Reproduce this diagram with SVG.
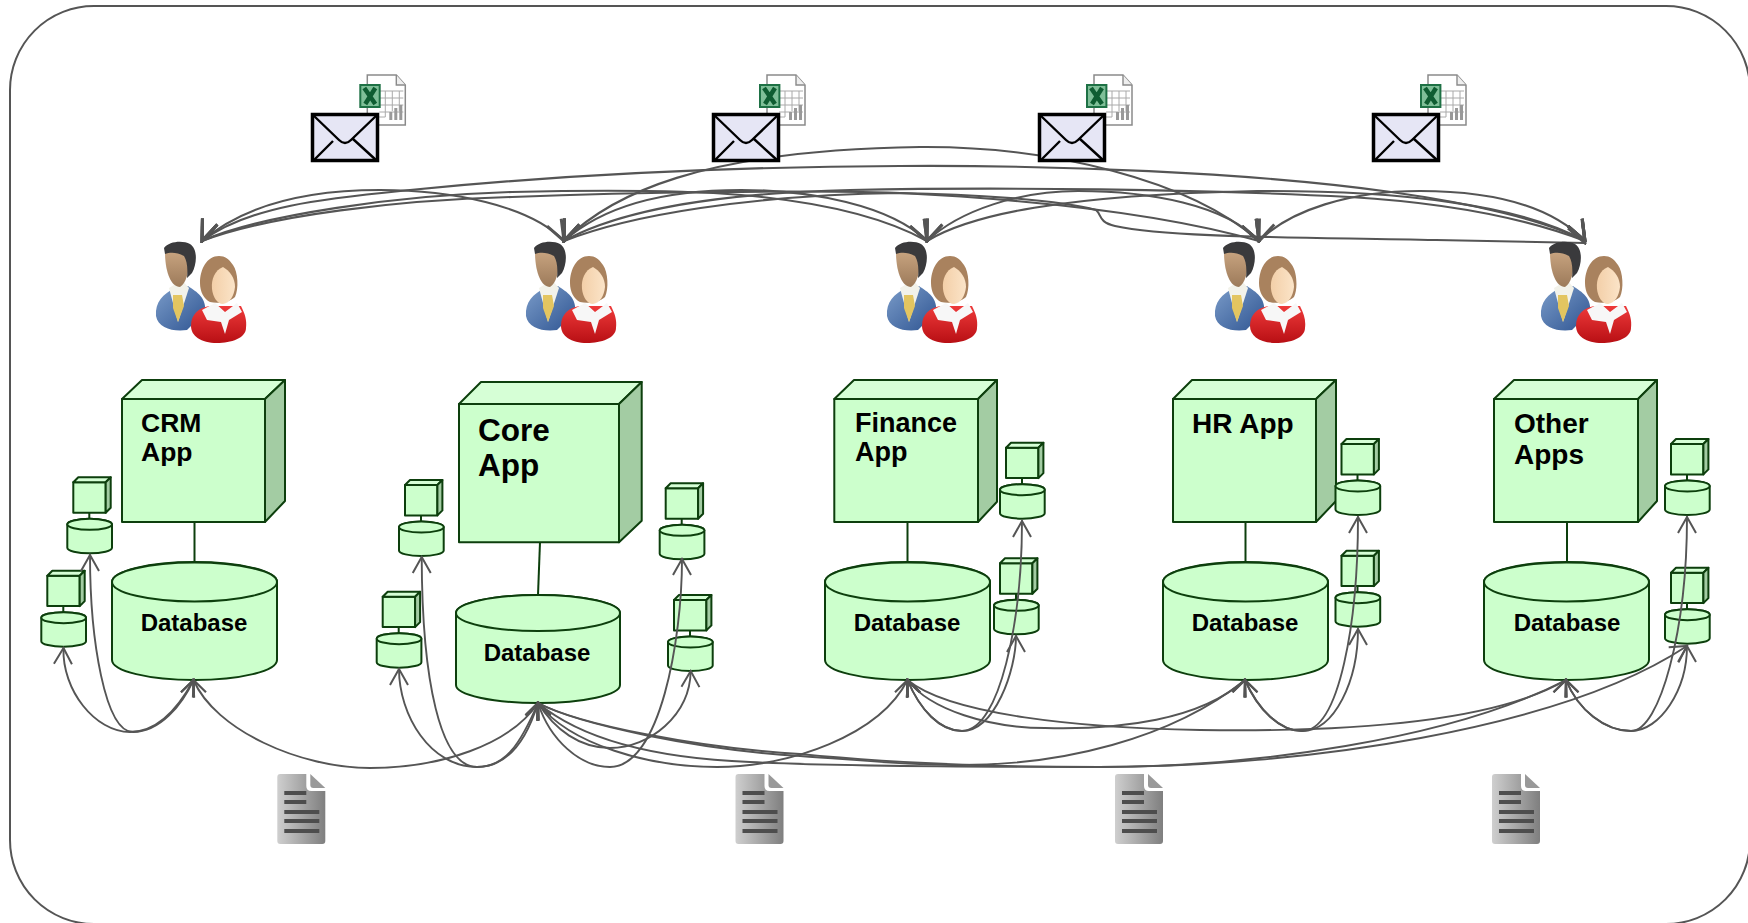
<svg xmlns="http://www.w3.org/2000/svg" xmlns:xlink="http://www.w3.org/1999/xlink" width="1748" height="923" viewBox="0 0 1748 923">
<style>
.f{fill:#ccffcc;stroke:#0d3f0d;stroke-width:2;stroke-linejoin:round}
.t{fill:#d6ffd6;stroke:#0d3f0d;stroke-width:2;stroke-linejoin:round}
.s{fill:#a3cca3;stroke:#0d3f0d;stroke-width:2;stroke-linejoin:round}
.l{fill:none;stroke:#0d3f0d;stroke-width:2}
.c{fill:none;stroke:#555;stroke-width:1.9;stroke-linecap:round}
.top{marker-start:url(#tl);marker-end:url(#tr);stroke-width:2.1}
.sl{marker-start:url(#ul)}
.sr{marker-start:url(#ur)}
.el{marker-end:url(#ul)}
.et{marker-end:url(#tip)}
text{font-family:"Liberation Sans",Arial,sans-serif;font-weight:700;fill:#000}
.a{font-size:26.5px}.a2{font-size:27px}.a3{font-size:28px}.b{font-size:31.5px}.d{font-size:24px;text-anchor:middle}
</style>
<defs>
<marker id="tl" markerUnits="userSpaceOnUse" viewBox="-24 -12 26 24" refX="0" refY="0" markerWidth="26" markerHeight="24" orient="112"><path d="M-21 -8L0 0L-21 8" fill="none" stroke="#555" stroke-width="3"/></marker>
<marker id="tr" markerUnits="userSpaceOnUse" viewBox="-24 -12 26 24" refX="0" refY="0" markerWidth="26" markerHeight="24" orient="62"><path d="M-21 -8L0 0L-21 8" fill="none" stroke="#555" stroke-width="3"/></marker>
<marker id="ul" markerUnits="userSpaceOnUse" viewBox="-20 -12 22 24" refX="0" refY="0" markerWidth="22" markerHeight="24" orient="-68"><path d="M-16 -7L0 0L-16 7" fill="none" stroke="#555" stroke-width="2.2"/></marker>
<marker id="ur" markerUnits="userSpaceOnUse" viewBox="-20 -12 22 24" refX="0" refY="0" markerWidth="22" markerHeight="24" orient="-112"><path d="M-16 -7L0 0L-16 7" fill="none" stroke="#555" stroke-width="2.2"/></marker>
<marker id="tip" markerUnits="userSpaceOnUse" viewBox="-20 -12 22 24" refX="0" refY="0" markerWidth="22" markerHeight="24" orient="auto"><path d="M-16 -9L0 0L-16 9" fill="none" stroke="#555" stroke-width="2"/></marker>
<linearGradient id="docg" x1="0" x2="1" y1="0" y2="0"><stop offset="0" stop-color="#cfcfcf"/><stop offset="1" stop-color="#7f7f7f"/></linearGradient>
<linearGradient id="blue" x1="0" x2="1" y1="0" y2="1"><stop offset="0" stop-color="#7b9cc9"/><stop offset="1" stop-color="#2f5592"/></linearGradient>
<linearGradient id="red" x1="0" x2="0" y1="0" y2="1"><stop offset="0" stop-color="#ee3a3a"/><stop offset="1" stop-color="#b80f14"/></linearGradient>
<linearGradient id="skin" x1="0" x2="0" y1="0" y2="1"><stop offset="0" stop-color="#c7a37f"/><stop offset="1" stop-color="#9c7a5a"/></linearGradient>
<linearGradient id="skin2" x1="0" x2="1" y1="0" y2="0"><stop offset="0" stop-color="#f3cfa8"/><stop offset="1" stop-color="#fbe4c8"/></linearGradient>
<g id="small">
<line class="l" x1="16" y1="30" x2="16" y2="37"/>
<rect class="f" width="32.4" height="30.4"/>
<path class="t" d="M0 0L5 -5H37.4L32.4 0Z"/>
<path class="s" d="M32.4 0L37.4 -5V25.4L32.4 30.4Z"/>
<path class="f" d="M-6 42V65.5A22.35 5.5 0 0 0 38.7 65.5V42A22.35 5.5 0 0 0 -6 42Z"/>
<ellipse class="f" cx="16.35" cy="42" rx="22.35" ry="5.5"/>
</g>
<g id="cyl">
<path class="f" d="M0 20V98A82.5 20 0 0 0 165 98V20A82.5 20 0 0 0 0 20Z"/>
<ellipse class="f" cx="82.5" cy="20" rx="82.5" ry="19.5"/>
</g>
<g id="person">
<path d="M1 74C0 60 8 52 20 46L33 44C42 50 52 56 50 70L32 88C18 90 3 86 1 74Z" fill="url(#blue)"/>
<path d="M14 46L23 80L34 46L27 38Z" fill="#f2f2ea"/>
<path d="M18 53H27L29 64L23 80L18 66Z" fill="#e3c560"/>
<path d="M10 10L33 10C35 24 33 40 25 45C16 45 10 30 10 10Z" fill="url(#skin)"/>
<path d="M9 6C14 -1 28 -2 35 2C43 7 42 22 37 31L32 36C33 26 32 19 29 14C22 10 15 10 10 12Z" fill="#3a3a3c"/>
<path d="M36 84C36 72 44 66 54 64L86 64C90 72 92 78 91 86C91 96 76 101 62 101C46 101 36 94 36 84Z" fill="url(#red)"/>
<path d="M64 14C52 14 45 27 45 41C45 50 49 57 55 60C63 62 75 60 80 55C84 47 83 30 78 23C74 17 70 14 64 14Z" fill="#a9825e"/>
<path d="M68 25C60 28 56 37 57 47C58 55 62 62 68 62C75 61 79 54 80 45C80 36 75 29 68 25Z" fill="url(#skin2)"/>
<path d="M47 68L60 61L70 70L82 61L87 70L74 78L70 92L66 80L52 78Z" fill="#f7f7f7"/>
</g>
<g id="excel">
<path d="M8 0H37L46 10V50H8Z" fill="#fff" stroke="#8a8a8a" stroke-width="1.5"/>
<path d="M37 0V10H46" fill="#eee" stroke="#8a8a8a" stroke-width="1.4"/>
<path d="M20 16H44M20 23H44M20 30H44M20 37H44M26 16V42M33 16V36M40 16V36M10 42H26" fill="none" stroke="#aaa" stroke-width="1"/>
<path d="M30 45V37H33V45ZM35 45V33H38V45ZM40 45V30H43V45Z" fill="#999"/>
<rect y="9" width="21.4" height="24" fill="#1e7145"/>
<rect x="2" y="11" width="17.4" height="20" fill="#7fbf98"/>
<path d="M5 13L16 29M16 13L6 29" stroke="#0f5d32" stroke-width="4.5" fill="none"/>
</g>
<g id="env">
<rect x="1.5" y="1.5" width="65" height="46" fill="#e6e6f5" stroke="#000" stroke-width="3.5"/>
<path d="M2 2L28 27Q34 33 40 27L66 2M3 47L22 28M65 47L42 26" fill="none" stroke="#000" stroke-width="2.4"/>
</g>
<g id="doc">
<path d="M3 0H29V12Q29 17 34 17H48V67Q48 70 45 70H3Q0 70 0 67V3Q0 0 3 0Z" fill="url(#docg)"/>
<path d="M33 0L48 14H36Q33 14 33 11Z" fill="#999"/>
<path d="M7 17H29V21H7ZM7 26H29V30H7ZM7 36H42V40H7ZM7 45H42V49H7ZM7 55H42V59H7Z" fill="#4d4d4d"/>
</g>
</defs>
<rect id="frame" x="10" y="6" width="1740" height="918" rx="84" ry="84" fill="#fff" stroke="#555" stroke-width="2"/>

<g id="crm">
<line class="l" x1="194.5" y1="522" x2="194.5" y2="562"/>
<rect class="f" x="122" y="399" width="143" height="123"/>
<path class="t" d="M122 399L142 380H285L265 399Z"/>
<path class="s" d="M265 399L285 380V501L265 522Z"/>
<text class="a" x="141" y="432">CRM</text><text class="a" x="141" y="461">App</text>
<use xlink:href="#cyl" href="#cyl" x="112" y="562"/>
<text class="d" x="194" y="631">Database</text>
<use xlink:href="#small" href="#small" x="73.3" y="482.3"/>
<use xlink:href="#small" href="#small" x="47.3" y="575.7"/>
</g>
<g id="core">
<line class="l" x1="540" y1="542" x2="538" y2="595"/>
<rect class="f" x="459" y="404" width="160" height="138.3"/>
<path class="t" d="M459 404L481 382H641.7L619 404Z"/>
<path class="s" d="M619 404L641.7 382V520.7L619 542.3Z"/>
<text class="b" x="478" y="441">Core</text><text class="b" x="478" y="476">App</text>
<path class="f" d="M456 613V685A82 18 0 0 0 620 685V613A82 18 0 0 0 456 613Z"/>
<ellipse class="f" cx="538" cy="613" rx="82" ry="18"/>
<text class="d" x="537" y="661">Database</text>
<use xlink:href="#small" href="#small" x="405" y="485"/>
<use xlink:href="#small" href="#small" x="382.7" y="596.7"/>
<use xlink:href="#small" href="#small" x="665.7" y="488.3"/>
<use xlink:href="#small" href="#small" x="674" y="600"/>
</g>
<g id="finance">
<line class="l" x1="907.5" y1="522" x2="907.5" y2="562"/>
<rect class="f" x="834.3" y="399" width="143.7" height="123"/>
<path class="t" d="M834.3 399L854 380H997L978 399Z"/>
<path class="s" d="M978 399L997 380V501.7L978 522Z"/>
<text class="a2" x="855" y="432">Finance</text><text class="a2" x="855" y="461">App</text>
<use xlink:href="#cyl" href="#cyl" x="825" y="562"/>
<text class="d" x="907" y="631">Database</text>
<use xlink:href="#small" href="#small" x="1006" y="447.7"/>
<use xlink:href="#small" href="#small" x="1000" y="563.3"/>
</g>
<g id="hr">
<line class="l" x1="1245.5" y1="522" x2="1245.5" y2="562"/>
<rect class="f" x="1173" y="399" width="143" height="123"/>
<path class="t" d="M1173 399L1192 380H1336L1316 399Z"/>
<path class="s" d="M1316 399L1336 380V501L1316 522Z"/>
<text class="a3" x="1192" y="433">HR App</text>
<use xlink:href="#cyl" href="#cyl" x="1163" y="562"/>
<text class="d" x="1245" y="631">Database</text>
<use xlink:href="#small" href="#small" x="1341.5" y="444"/>
<use xlink:href="#small" href="#small" x="1341.5" y="555.7"/>
</g>
<g id="other">
<line class="l" x1="1567" y1="522" x2="1567" y2="562"/>
<rect class="f" x="1494" y="399" width="144" height="123"/>
<path class="t" d="M1494 399L1514 380H1657L1638 399Z"/>
<path class="s" d="M1638 399L1657 380V501L1638 522Z"/>
<text class="a3" x="1514" y="433">Other</text><text class="a3" x="1514" y="464">Apps</text>
<use xlink:href="#cyl" href="#cyl" x="1484" y="562"/>
<text class="d" x="1567" y="631">Database</text>
<use xlink:href="#small" href="#small" x="1671" y="444"/>
<use xlink:href="#small" href="#small" x="1671" y="572.7"/>
</g>

<g id="connectors">
<g class="c">
<path class="top" d="M202 241C250 205 330 198 410 190C530 178 700 167 900 166C1050 165 1250 172 1391 192C1470 203 1545 220 1585 241"/>
<path class="top" d="M202 241C250 200 320 190 380 190C450 190 530 205 564 241"/>
<path class="top" d="M202 241C260 215 400 195 512 192C600 190 680 190 741 195C810 201 880 215 927 241"/>
<path class="top" d="M202 241C270 215 400 200 512 197C640 192 800 190 900 193C1000 198 1150 210 1259 241"/>
<path class="top" d="M564 241C610 200 680 190 741 190C810 190 890 205 927 241"/>
<path class="top" d="M564 241C610 195 700 150 920 147C1050 146 1190 180 1259 241"/>
<path class="top" d="M564 241C620 210 720 193 850 190C1000 187 1200 189 1350 197C1450 203 1530 220 1585 241"/>
<path class="top" d="M564 241C630 215 750 195 900 193C970 194 1060 200 1096 210C1102 215 1098 222 1115 226C1170 238 1300 237 1436 240C1480 241 1540 242 1585 243"/>
<path class="top" d="M927 241C960 210 1020 191 1078 191C1150 191 1225 205 1259 241"/>
<path class="top" d="M927 241C970 215 1060 195 1257 191C1400 190 1520 205 1585 241"/>
<path class="top" d="M1259 241C1290 210 1350 191 1420 191C1490 191 1550 205 1585 241"/>
<path class="sl et" d="M193.5 680C180 705 160 732 130 732C95 732 62 690 63.5 648"/>
<path class="sl et" d="M193.5 680C182 705 160 732 133 732C105 732 90 640 90 555"/>
<path class="sr el" d="M193.5 680C215 730 300 768 370 768C440 768 510 745 538 703"/>
<path class="sl et" d="M538 703C520 745 505 767 477 767C430 767 399 715 399 669"/>
<path class="sl et" d="M538 703C525 745 505 767 477 767C440 767 422 680 421.7 557"/>
<path class="sr et" d="M538 703C550 740 580 767 610 767C660 767 682 640 682 559"/>
<path class="sr et" d="M538 703C555 730 580 748 610 748C650 748 690 715 690.7 671"/>
<path class="sr el" d="M538 703C570 745 650 767 717 767C790 767 880 735 907.5 680"/>
<path class="sr el" d="M538 703C580 725 700 750 800 756C860 760 900 765 962 765C1060 765 1170 740 1245 680"/>
<path class="sr el" d="M538 703C580 725 700 748 800 754C900 764 1000 767 1099 767C1250 767 1450 740 1566 680"/>
<path class="sr et" d="M538 703C580 738 650 758 750 762C850 767 1000 767 1099 767C1300 767 1560 730 1687 646"/>
<path class="sr et" d="M907.5 680C920 710 940 731 962 731C995 731 1016 670 1016 636"/>
<path class="sr et" d="M907.5 680C920 710 940 731 962 731C1000 731 1022 620 1022 521"/>
<path class="sr el" d="M907.5 680C930 710 990 728 1045 728C1120 730 1200 720 1245 680"/>
<path class="sr el" d="M907.5 680C950 715 1080 728 1200 730C1330 732 1490 725 1566 680"/>
<path class="sr et" d="M1245 680C1258 710 1280 731 1302 731C1335 731 1358 680 1358 629"/>
<path class="sr et" d="M1245 680C1258 710 1280 731 1302 731C1340 731 1358 620 1358 517"/>
<path class="sr et" d="M1566 680C1578 710 1605 731 1631 731C1660 731 1687 690 1687 646"/>
<path class="sr et" d="M1566 680C1578 710 1605 731 1631 731C1660 731 1687 630 1687 517"/>
</g>
</g>

<g id="mail1"><use xlink:href="#excel" href="#excel" x="359.3" y="75"/><use xlink:href="#env" href="#env" x="311" y="113"/></g>
<g id="mail2"><use xlink:href="#excel" href="#excel" x="759" y="75"/><use xlink:href="#env" href="#env" x="712" y="113"/></g>
<g id="mail3"><use xlink:href="#excel" href="#excel" x="1086" y="75"/><use xlink:href="#env" href="#env" x="1038" y="113"/></g>
<g id="mail4"><use xlink:href="#excel" href="#excel" x="1420" y="75"/><use xlink:href="#env" href="#env" x="1372" y="113"/></g>

<g id="users1"><use xlink:href="#person" href="#person" x="155" y="242"/></g>
<g id="users2"><use xlink:href="#person" href="#person" x="525" y="242"/></g>
<g id="users3"><use xlink:href="#person" href="#person" x="886" y="242"/></g>
<g id="users4"><use xlink:href="#person" href="#person" x="1214" y="242"/></g>
<g id="users5"><use xlink:href="#person" href="#person" x="1540" y="242"/></g>

<g id="doc1"><use xlink:href="#doc" href="#doc" x="277.3" y="774"/></g>
<g id="doc2"><use xlink:href="#doc" href="#doc" x="735.5" y="774"/></g>
<g id="doc3"><use xlink:href="#doc" href="#doc" x="1115" y="774"/></g>
<g id="doc4"><use xlink:href="#doc" href="#doc" x="1492" y="774"/></g>
</svg>
